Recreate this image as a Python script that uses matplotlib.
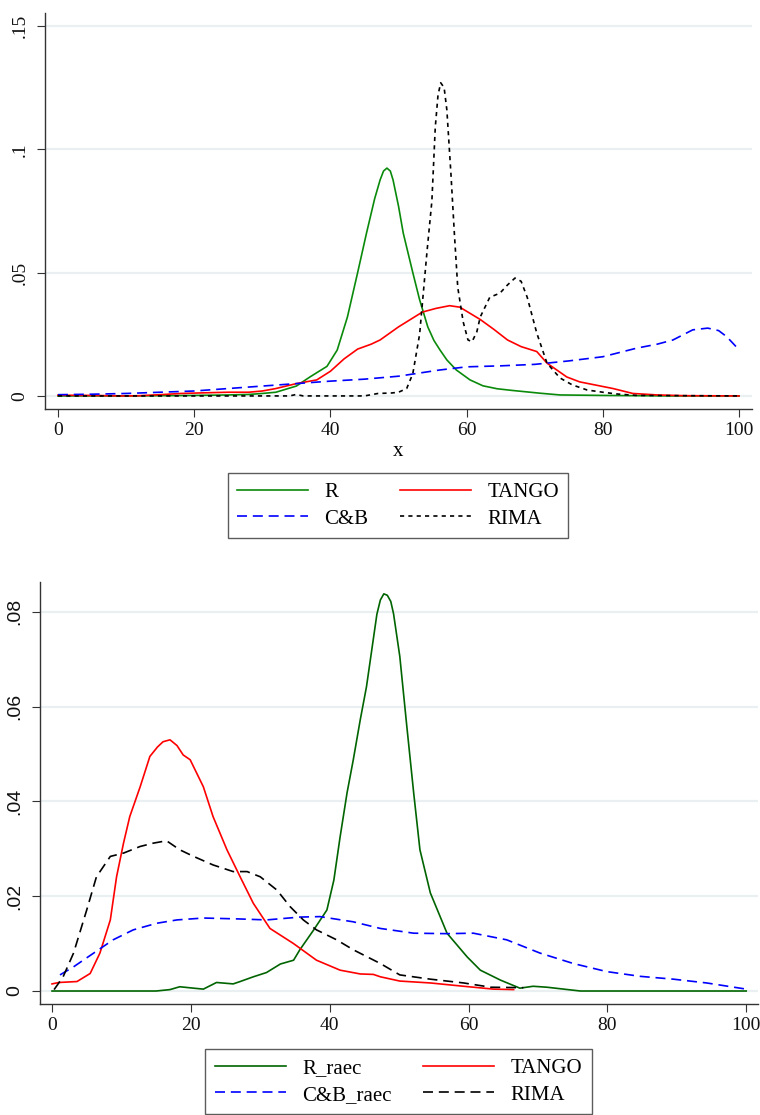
import numpy as np
import matplotlib
matplotlib.use('Agg')
import matplotlib.pyplot as plt

plt.rcParams['font.family'] = ['Liberation Serif', 'DejaVu Serif']

# ---- top panel: density of x ----
r_x = [0, 10, 20, 25, 28, 30, 32, 35, 37, 39.5, 41, 42.5, 44, 45.3, 46.5, 47.3, 47.8, 48.3, 48.8, 49.2, 50.0,
       50.7, 52.1, 53.1, 54.3, 55.2, 56.1, 57.1, 58.5, 60.5, 62.4, 64.5, 66.8, 70.8, 73.7, 80, 90, 100]
r_y = [0, 0, 0.0002, 0.0004, 0.0006, 0.001, 0.0015, 0.004, 0.0077, 0.012, 0.0186, 0.032, 0.05, 0.066, 0.080,
       0.0876, 0.0912, 0.0924, 0.0912, 0.0876, 0.077, 0.066, 0.05, 0.039, 0.028, 0.0225, 0.0186, 0.0146,
       0.0105, 0.0065, 0.0041, 0.0029, 0.0022, 0.0011, 0.0004, 0.0002, 0, 0]

tango_x = [0, 5, 10, 12, 15, 18, 22, 25, 28, 30, 32, 35, 38, 40, 42, 44, 46, 47.3, 50, 53.5, 55.5, 57.5, 59,
           62, 64, 66, 68, 70.3, 71.8, 74.7, 76.6, 81.5, 84.4, 88, 92, 100]
tango_y = [0.0003, 0.0002, 0, 0.0001, 0.0005, 0.001, 0.0013, 0.0015, 0.0015, 0.002, 0.003, 0.005, 0.0065,
           0.01, 0.015, 0.019, 0.021, 0.0227, 0.028, 0.034, 0.0355, 0.0366, 0.036, 0.031, 0.027, 0.0227, 0.020,
           0.018, 0.0133, 0.0077, 0.0057, 0.003, 0.001, 0.0004, 0.0001, 0]

cb_x = [0, 5, 10, 15, 20, 25, 30, 35, 40, 45, 50, 56, 60, 65, 70, 75, 80, 85, 88, 90.3, 93.2, 95.4, 97, 98.2, 100]
cb_y = [0.0005, 0.0007, 0.001, 0.0015, 0.002, 0.003, 0.004, 0.005, 0.006, 0.0068, 0.008, 0.0105, 0.0118,
        0.0122, 0.0128, 0.0142, 0.0159, 0.0194, 0.021, 0.0227, 0.0268, 0.0275, 0.0265, 0.024, 0.0187]

rima_x = [0, 10, 20, 30, 34, 35, 36, 40, 45, 47, 49, 50, 51.2, 52.1, 53.1, 54.2, 54.9, 55.4, 55.8, 56.2, 56.7,
          57.1, 57.7, 58.2, 58.7, 59.5, 60.2, 60.8, 61.5, 62, 63.4, 64.9, 66, 67.1, 68, 68.9, 70.3, 71.8, 73.7,
          75.5, 77.7, 80, 82, 85, 100]
rima_y = [0, 0, 0, 0, 0, 0.0006, 0, 0, 0, 0.001, 0.0012, 0.0015, 0.003, 0.009, 0.025, 0.059, 0.079, 0.109,
          0.122, 0.127, 0.125, 0.116, 0.090, 0.066, 0.044, 0.03, 0.0227, 0.022, 0.026, 0.032, 0.040, 0.0417,
          0.045, 0.0478, 0.0465, 0.04, 0.0255, 0.0133, 0.0073, 0.0045, 0.0024, 0.0015, 0.0008, 0.0002, 0]

top_yticks = [0, 0.05, 0.1, 0.15]
top_ylabels = ['0', '.05', '.1', '.15']
xticks = [0, 20, 40, 60, 80, 100]

# ---- bottom panel: raec versions ----
rr_x = [0, 10, 15, 17, 18.4, 20.4, 21.8, 23.7, 26.1, 27.1, 29, 30.9, 32.9, 34.8, 35.7, 37.7, 39.6, 40.6, 41.5,
        42.5, 43.4, 44.4, 45.3, 46.8, 47.3, 47.8, 48.3, 48.8, 49.2, 50.1, 51.1, 52.1, 53, 54.5, 56.9, 59.8, 61.7,
        64.6, 67.4, 69.3, 71.3, 76.1, 80, 100]
rr_y = [0, 0, 0, 0.0003, 0.0009, 0.0006, 0.0004, 0.0018, 0.0015, 0.002, 0.003, 0.0039, 0.0057, 0.0065, 0.0087,
        0.0129, 0.0171, 0.0234, 0.0325, 0.0418, 0.0488, 0.0572, 0.0642, 0.0795, 0.0825, 0.0838, 0.0835, 0.0822,
        0.0796, 0.0706, 0.056, 0.0418, 0.0298, 0.0207, 0.0122, 0.0072, 0.0044, 0.0023, 0.0006, 0.001, 0.0008,
        0, 0, 0]

t2_x = [0, 1, 3.6, 5.5, 6.9, 8.4, 9.3, 10.3, 11.2, 12.7, 14.1, 15.2, 16, 17, 18, 18.9, 19.9, 21.8, 23.2, 25.2,
        27.1, 29, 31.4, 34.8, 38.1, 41.5, 44.4, 46.3, 47.3, 50.1, 54.5, 59.3, 63.6, 66.5]
t2_y = [0.0015, 0.0018, 0.002, 0.0037, 0.008, 0.015, 0.0241, 0.0312, 0.0368, 0.0431, 0.0495, 0.0515, 0.0526,
        0.053, 0.0518, 0.0498, 0.0488, 0.0431, 0.0368, 0.0298, 0.0241, 0.0185, 0.0132, 0.010, 0.0065, 0.0044,
        0.0036, 0.0035, 0.003, 0.0021, 0.0017, 0.001, 0.0004, 0.0003]

cb2_x = [1.15, 3.1, 6, 8.8, 11.7, 15.1, 18, 21.8, 27.1, 30.9, 35.7, 38.6, 43.4, 47.3, 52.1, 56.9, 60.7, 65.5,
         70.3, 75.1, 79.9, 84.7, 89.5, 94.3, 100]
cb2_y = [0.0034, 0.0051, 0.008, 0.0108, 0.0129, 0.0143, 0.015, 0.0154, 0.0152, 0.015, 0.0156, 0.0157, 0.0146,
         0.0132, 0.0122, 0.0121, 0.0122, 0.0108, 0.008, 0.0058, 0.0041, 0.0031, 0.0025, 0.0017, 0.0004]

rima2_x = [0.3, 1.6, 3.1, 5, 6.4, 8.4, 10.3, 12.7, 14.6, 16.5, 18.4, 20.4, 23.2, 26.1, 28.1, 30, 32.4, 34.3,
           36.2, 38.1, 41, 43.4, 47.3, 50.1, 54.5, 59.3, 63.2, 67.9]
rima2_y = [0.0003, 0.003, 0.008, 0.0171, 0.0241, 0.0284, 0.0291, 0.0305, 0.0312, 0.0317, 0.0298, 0.0284,
           0.0266, 0.0252, 0.0252, 0.0241, 0.0213, 0.0178, 0.015, 0.0129, 0.0108, 0.0087, 0.0058, 0.0034,
           0.0025, 0.0017, 0.0008, 0.0007]

bot_yticks = [0, 0.02, 0.04, 0.06, 0.08]
bot_ylabels = ['0', '.02', '.04', '.06', '.08']

W, H = 760, 1115
fig = plt.figure(figsize=(W / 100, H / 100), dpi=100)


def style_axes(ax, yticks, ylabels, yfont):
    for s in ['top', 'right']:
        ax.spines[s].set_visible(False)
    for s in ['left', 'bottom']:
        ax.spines[s].set_color('#333333')
        ax.spines[s].set_linewidth(1.0)
    ax.set_xticks(xticks)
    ax.set_yticks(yticks)
    ax.set_yticklabels(ylabels, rotation=90, va='center', family=yfont)
    ax.tick_params(axis='both', direction='out', length=6, width=0.8, color='#333333',
                   labelsize=14, labelcolor='#111111')
    ax.tick_params(axis='y', pad=6)
    for v in yticks:
        ax.axhline(v, color='#eaf0f2', lw=1.6, zorder=0)


def add_legend(ax, center):
    h, l = ax.get_legend_handles_labels()
    # row-wise order like the original: first row items 0,1 ; second row 2,3
    order = [0, 2, 1, 3]
    fig.legend([h[i] for i in order], [l[i] for i in order], ncol=2, loc='center',
               bbox_to_anchor=center, fontsize=15, frameon=True, fancybox=False,
               edgecolor='#333333', handlelength=3.4, handletextpad=0.8, columnspacing=1.5,
               labelspacing=0.35, borderpad=0.45)


# top panel
ax1 = fig.add_axes([45 / W, 1 - 409 / H, 707 / W, 396 / H])
ax1.plot(r_x, r_y, color='#0a8a0a', lw=1.2, label='R')
ax1.plot(tango_x, tango_y, color='#ff0000', lw=1.2, label='TANGO')
ax1.plot(cb_x, cb_y, color='#0000ff', lw=1.2, dashes=(6, 3.5), label='C&B')
ax1.plot(rima_x, rima_y, color='#000000', lw=1.2, dashes=(2.5, 2.5), label='RIMA')
ax1.set_xlim(-1.9, 101.9)
ax1.set_ylim(-0.0053, 0.1553)
style_axes(ax1, top_yticks, top_ylabels, ['Liberation Serif'])
ax1.set_xlabel('x', fontsize=15, labelpad=2)
add_legend(ax1, (398 / W, 1 - 505.5 / H))

# bottom panel
ax2 = fig.add_axes([40 / W, 1 - 1004 / H, 718 / W, 422 / H])
ax2.plot(rr_x, rr_y, color='#006400', lw=1.2, label='R_raec')
ax2.plot(t2_x, t2_y, color='#ff0000', lw=1.2, label='TANGO')
ax2.plot(cb2_x, cb2_y, color='#0000ff', lw=1.2, dashes=(6, 3.5), label='C&B_raec')
ax2.plot(rima2_x, rima2_y, color='#000000', lw=1.2, dashes=(6, 3.5), label='RIMA')
ax2.set_xlim(-1.73, 101.7)
ax2.set_ylim(-0.00274, 0.0863)
style_axes(ax2, bot_yticks, bot_ylabels, ['Liberation Sans'])
add_legend(ax2, (398.5 / W, 1 - 1081.5 / H))

fig.savefig('out.png', dpi=100, facecolor='white')
